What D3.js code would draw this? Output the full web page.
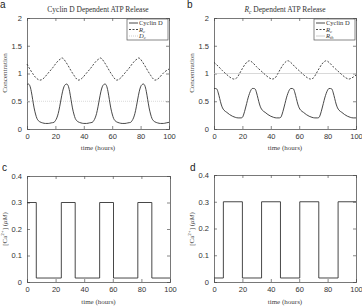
<!DOCTYPE html>
<html><head><meta charset="utf-8">
<script src="https://cdn.jsdelivr.net/npm/d3@7"></script>
<style>body{margin:0;background:#fff}svg{display:block}</style>
</head><body>
<svg id="c" width="362" height="306"></svg>
<script>
// ---------- data ----------
const timeTicks = [0, 20, 40, 60, 80, 100];
const concTicks = [0, 0.5, 1, 1.5, 2];
const caTicks = [0, 0.1, 0.2, 0.3, 0.4];

// Panel a : Cyclin D dependent ATP release
const cyclinA = [[0,0.80],[1,0.81],[2,0.78],[3,0.68],[4,0.53],[5,0.38],[6,0.27],[7,0.19],[8,0.15],[9,0.13],[11,0.11],[13,0.10],[15,0.10],[17,0.11],[19,0.12],[20,0.15],[21,0.20],[22,0.28],[23,0.40],[24,0.54],[25,0.67],[26,0.76],[27,0.80],[28,0.81],[29,0.78],[30,0.68],[31,0.53],[32,0.38],[33,0.27],[34,0.19],[35,0.15],[36,0.13],[38,0.11],[40,0.10],[42,0.10],[44,0.11],[46,0.12],[47,0.15],[48,0.20],[49,0.28],[50,0.40],[51,0.54],[52,0.67],[53,0.76],[54,0.80],[55,0.81],[56,0.78],[57,0.68],[58,0.53],[59,0.38],[60,0.27],[61,0.19],[62,0.15],[63,0.13],[65,0.11],[67,0.10],[69,0.10],[71,0.11],[73,0.12],[74,0.15],[75,0.20],[76,0.28],[77,0.40],[78,0.54],[79,0.67],[80,0.76],[81,0.80],[82,0.81],[83,0.78],[84,0.68],[85,0.53],[86,0.38],[87,0.27],[88,0.19],[89,0.15],[90,0.13],[92,0.11],[94,0.10],[96,0.10],[98,0.11],[100,0.12]];
const rcA = [[0,1.17],[2,1.08],[4,1.00],[6,0.93],[8,0.89],[9,0.88],[10,0.885],[12,0.92],[14,0.98],[16,1.04],[18,1.10],[20,1.17],[22,1.23],[24,1.27],[24.5,1.28],[25.5,1.27],[27,1.22],[29,1.14],[31,1.05],[33,0.97],[35,0.90],[36,0.88],[37,0.885],[39,0.92],[41,0.98],[43,1.04],[45,1.10],[47,1.17],[49,1.23],[51,1.27],[51.5,1.28],[52.5,1.27],[54,1.22],[56,1.14],[58,1.05],[60,0.97],[62,0.90],[63,0.88],[64,0.885],[66,0.92],[68,0.98],[70,1.04],[72,1.10],[74,1.17],[76,1.23],[78,1.27],[78.5,1.28],[79.5,1.27],[81,1.22],[83,1.14],[85,1.05],[87,0.97],[89,0.90],[90,0.88],[91,0.885],[93,0.92],[95,0.98],[97,1.03],[100,1.08]];
const dcA = [[0,0.5],[100,0.5]];

// Panel b : R_c dependent ATP release
const cyclinB = [[0,0.73],[1,0.73],[2,0.72],[3,0.65],[4,0.55],[5,0.45],[6,0.38],[7,0.34],[9,0.30],[11,0.26],[13,0.23],[15,0.21],[17,0.20],[19,0.20],[20,0.21],[21,0.27],[22,0.36],[23,0.46],[24,0.56],[25,0.64],[26,0.70],[27,0.73],[28,0.73],[29,0.72],[30,0.65],[31,0.55],[32,0.45],[33,0.38],[34,0.34],[36,0.30],[38,0.26],[40,0.23],[42,0.21],[44,0.20],[46,0.20],[47,0.21],[48,0.27],[49,0.36],[50,0.46],[51,0.56],[52,0.64],[53,0.70],[54,0.73],[55,0.73],[56,0.72],[57,0.65],[58,0.55],[59,0.45],[60,0.38],[61,0.34],[63,0.30],[65,0.26],[67,0.23],[69,0.21],[71,0.20],[73,0.20],[74,0.21],[75,0.27],[76,0.36],[77,0.46],[78,0.56],[79,0.64],[80,0.70],[81,0.73],[82,0.73],[83,0.72],[84,0.65],[85,0.55],[86,0.45],[87,0.38],[88,0.34],[90,0.30],[92,0.26],[94,0.23],[96,0.21],[98,0.20],[100,0.20]];
const rcB = [[0,1.20],[3,1.13],[6,1.05],[9,0.98],[12,0.92],[14,0.90],[16,0.92],[18,1.00],[20,1.09],[22,1.17],[24,1.22],[25,1.23],[27,1.20],[30,1.12],[33,1.05],[36,0.98],[39,0.92],[41,0.90],[43,0.92],[45,1.00],[47,1.09],[49,1.17],[51,1.22],[52,1.23],[54,1.20],[57,1.12],[60,1.05],[63,0.98],[66,0.92],[68,0.90],[70,0.92],[72,1.00],[74,1.09],[76,1.17],[78,1.22],[79,1.23],[81,1.20],[84,1.12],[87,1.05],[90,0.98],[93,0.92],[95,0.90],[97,0.92],[100,0.97]];
const rthB = [[0,1.0],[100,1.0]];

// Panel c and d : calcium square waves [time, value]
const caC = [[0,0.3],[6.5,0.3],[6.5,0.015],[24,0.015],[24,0.3],[33.7,0.3],[33.7,0.015],[50.8,0.015],[50.8,0.3],[60.5,0.3],[60.5,0.015],[77.5,0.015],[77.5,0.3],[87.3,0.3],[87.3,0.015],[100,0.015]];
const caD = [[0,0.015],[6.6,0.015],[6.6,0.3],[20,0.3],[20,0.015],[33.5,0.015],[33.5,0.3],[46.8,0.3],[46.8,0.015],[60.4,0.015],[60.4,0.3],[73.8,0.3],[73.8,0.015],[87.4,0.015],[87.4,0.3],[100,0.3]];

// ---------- drawing ----------
const svg = d3.select("#c");
const SERIF = "'Liberation Serif','DejaVu Serif',serif";
const SANS = "'Liberation Sans',Arial,sans-serif";
const AX = "#555";

function panel(o) {
  const x = d3.scaleLinear().domain([0, 100]).range([o.x0, o.x1]);
  const y = d3.scaleLinear().domain(o.ydom).range([o.y1, o.y0]);
  const g = svg.append("g");
  const bx = g.append("g").attr("transform", `translate(0,${o.y1})`)
    .call(d3.axisBottom(x).tickValues(timeTicks).tickSize(-3).tickPadding(5).tickFormat(d3.format("d")));
  const tx = g.append("g").attr("transform", `translate(0,${o.y0})`)
    .call(d3.axisTop(x).tickValues(timeTicks).tickSize(-3).tickFormat(""));
  const ly = g.append("g").attr("transform", `translate(${o.x0},0)`)
    .call(d3.axisLeft(y).tickValues(o.yticks).tickSize(-3).tickPadding(5).tickFormat(d => String(d)));
  const ry = g.append("g").attr("transform", `translate(${o.x1},0)`)
    .call(d3.axisRight(y).tickValues(o.yticks).tickSize(-3).tickFormat(""));
  [bx, tx, ly, ry].forEach(a => {
    a.selectAll("path").attr("stroke", AX).attr("stroke-width", 0.8);
    a.selectAll("line").attr("stroke", AX).attr("stroke-width", 0.7);
    a.selectAll("text").attr("font-family", SANS).attr("font-size", 7.5).attr("fill", "#333");
  });
  const line = d3.line().x(d => x(d[0])).y(d => y(d[1]));
  const smooth = d3.line().x(d => x(d[0])).y(d => y(d[1])).curve(d3.curveMonotoneX);
  (o.series || []).forEach(s => {
    g.append("path").datum(s.data).attr("fill", "none")
      .attr("stroke", s.color || "#333").attr("stroke-width", s.w || 0.9)
      .attr("stroke-dasharray", s.dash || null)
      .attr("d", s.step ? line(s.data) : smooth(s.data));
  });
  g.append("text").attr("x", (o.x0 + o.x1) / 2).attr("y", o.xlabY)
    .attr("text-anchor", "middle").attr("font-family", SERIF).attr("font-size", 7).attr("fill", "#444")
    .text("time (hours)");
  return {x, y, g};
}

function ylabelConc(g, xpos, ymid) {
  g.append("text").attr("transform", `translate(${xpos},${ymid}) rotate(-90)`)
    .attr("text-anchor", "middle").attr("font-family", SERIF).attr("font-size", 7).attr("fill", "#444")
    .text("Concentration");
}
function ylabelCa(g, xpos, ymid) {
  const t = g.append("text").attr("transform", `translate(${xpos},${ymid}) rotate(-90)`)
    .attr("text-anchor", "middle").attr("font-family", SERIF).attr("font-size", 7).attr("fill", "#444");
  t.append("tspan").text("[Ca");
  t.append("tspan").attr("dy", -3).attr("font-size", 5).text("2+");
  t.append("tspan").attr("dy", 3).text("] (");
  t.append("tspan").attr("font-style", "italic").text("μM");
  t.append("tspan").text(")");
}
function legend(g, x0, y0, items) {
  g.append("rect").attr("x", x0).attr("y", y0).attr("width", 41).attr("height", 21)
    .attr("fill", "#fff").attr("stroke", AX).attr("stroke-width", 0.7);
  items.forEach((it, i) => {
    const yy = y0 + 4 + i * 6.5;
    g.append("line").attr("x1", x0 + 2).attr("x2", x0 + 11).attr("y1", yy).attr("y2", yy)
      .attr("stroke", it.color || "#333").attr("stroke-width", 0.9).attr("stroke-dasharray", it.dash || null);
    const t = g.append("text").attr("x", x0 + 12).attr("y", yy + 2)
      .attr("font-family", SERIF).attr("font-size", 6.5).attr("fill", "#333");
    if (it.sub) {
      t.append("tspan").attr("font-style", "italic").text(it.label);
      t.append("tspan").attr("font-style", "italic").attr("font-size", 4.5).attr("dy", 1).text(it.sub);
    } else t.text(it.label);
  });
}
function title(x, y, parts) {
  const t = svg.append("text").attr("x", x).attr("y", y).attr("text-anchor", "middle")
    .attr("font-family", SERIF).attr("font-size", 7.5).attr("fill", "#333");
  parts.forEach(p => {
    const s = t.append("tspan").text(p.t);
    if (p.it) s.attr("font-style", "italic");
    if (p.sub) s.attr("font-size", 5.5).attr("dy", 1.5);
    if (p.back) s.attr("dy", -1.5);
  });
}
function letter(x, y, s) {
  svg.append("text").attr("x", x).attr("y", y).attr("font-family", SANS).attr("font-size", 10).attr("fill", "#222").text(s);
}

// a
const A = panel({x0: 27, x1: 169, y0: 18, y1: 129, ydom: [0, 2], yticks: concTicks, xlabY: 150,
  series: [
    {data: dcA, color: "#c8c8c8", dash: "1,1", w: 0.7},
    {data: rcA, dash: "2,1.5"},
    {data: cyclinA}
  ]});
ylabelConc(A.g, 7, 73);
legend(A.g, 127, 19, [{label: "Cyclin D"}, {label: "R", sub: "c", dash: "2,1.5"}, {label: "D", sub: "c", color: "#c8c8c8", dash: "1,1"}]);
title(98, 12, [{t: "Cyclin D Dependent ATP Release"}]);
letter(0, 8, "a");

// b
const B = panel({x0: 214, x1: 356, y0: 18, y1: 129, ydom: [0, 2], yticks: concTicks, xlabY: 150,
  series: [
    {data: rthB, color: "#c8c8c8", w: 0.7},
    {data: rcB, dash: "2,1.5"},
    {data: cyclinB}
  ]});
ylabelConc(B.g, 194, 73);
legend(B.g, 314, 19, [{label: "Cyclin D"}, {label: "R", sub: "c", dash: "2,1.5"}, {label: "R", sub: "th", color: "#c8c8c8"}]);
title(285, 12, [{t: "R", it: true}, {t: "c", sub: true, it: true}, {t: " Dependent ATP Release", back: true}]);
letter(187, 8, "b");

// c
const C = panel({x0: 27, x1: 170, y0: 176, y1: 282, ydom: [0, 0.4], yticks: caTicks, xlabY: 304,
  series: [{data: caC, step: true}]});
ylabelCa(C.g, 7, 229);
letter(2, 171, "c");

// d
const D = panel({x0: 214, x1: 356, y0: 175, y1: 282, ydom: [0, 0.4], yticks: caTicks, xlabY: 304,
  series: [{data: caD, step: true}]});
ylabelCa(D.g, 194, 229);
letter(190, 171, "d");
</script>
</body></html>
